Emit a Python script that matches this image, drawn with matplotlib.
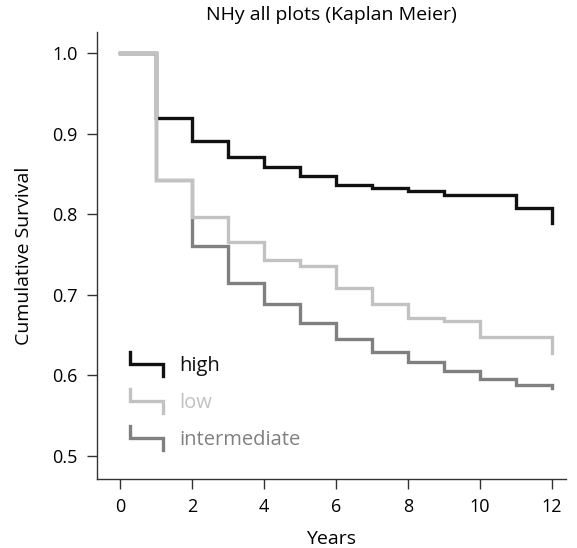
import matplotlib
matplotlib.use("Agg")
import matplotlib.pyplot as plt
from matplotlib.legend_handler import HandlerBase
from matplotlib.lines import Line2D

plt.rcParams["font.family"] = ["Open Sans", "DejaVu Sans"]

# Kaplan-Meier step values: value held from year i to i+1, last entry = value at year 12
years = list(range(13))
high = [1.0, 0.919, 0.891, 0.871, 0.859, 0.847, 0.836, 0.832, 0.829, 0.824, 0.824, 0.808, 0.789]
low = [1.0, 0.843, 0.797, 0.765, 0.743, 0.736, 0.708, 0.689, 0.671, 0.667, 0.648, 0.648, 0.628]
intermediate = [1.0, 0.843, 0.760, 0.715, 0.689, 0.665, 0.645, 0.629, 0.617, 0.605, 0.596, 0.588, 0.584]

c_high = "#111111"
c_low = "#c2c2c2"
c_int = "#808080"


class StepHandler(HandlerBase):
    # draws a little step glyph as the legend key
    def create_artists(self, legend, orig_handle, xdescent, ydescent,
                       width, height, fontsize, trans):
        x0 = -xdescent
        x1 = x0 + width
        ym = -ydescent + height / 2
        h = height * 0.85
        ln = Line2D([x0, x0, x1, x1], [ym + h, ym, ym, ym - h],
                    color=orig_handle.get_color(), lw=orig_handle.get_linewidth(),
                    solid_joinstyle="miter", transform=trans)
        return [ln]


fig = plt.figure(figsize=(5.77, 5.48), dpi=100)
ax = fig.add_axes([97 / 577, 1 - 479 / 548, (566 - 97) / 577, (479 - 32) / 548])

lw = 2.4
l_int, = ax.step(years, intermediate, where="post", color=c_int, lw=lw,
                 solid_joinstyle="miter", label="intermediate")
l_high, = ax.step(years, high, where="post", color=c_high, lw=lw,
                  solid_joinstyle="miter", label="high")
l_low, = ax.step(years, low, where="post", color=c_low, lw=lw,
                 solid_joinstyle="miter", label="low")

ax.set_xlim(-0.64, 12.39)
ax.set_ylim(0.4715, 1.026)
ax.set_xticks(range(0, 13, 2))
ax.set_yticks([0.5, 0.6, 0.7, 0.8, 0.9, 1.0])
ax.set_yticklabels(["0.5", "0.6", "0.7", "0.8", "0.9", "1.0"])

for s in ["top", "right"]:
    ax.spines[s].set_visible(False)
for s in ["left", "bottom"]:
    ax.spines[s].set_linewidth(1.0)
    ax.spines[s].set_color("#333333")
ax.tick_params(length=7, width=1.0, color="#333333", labelsize=13, pad=7)

ax.set_xlabel("Years", fontsize=14, labelpad=10)
ax.set_ylabel("Cumulative Survival", fontsize=14, labelpad=14)
ax.set_title("NHy all plots (Kaplan Meier)", fontsize=14, pad=9)

leg = ax.legend([l_high, l_low, l_int], ["high", "low", "intermediate"],
                handler_map={Line2D: StepHandler()},
                loc="lower left", bbox_to_anchor=(0.07, 0.065), frameon=False,
                fontsize=14.5, handlelength=1.65, handletextpad=0.8,
                labelspacing=0.85, borderpad=0, borderaxespad=0)
for txt, c in zip(leg.get_texts(), [c_high, c_low, c_int]):
    txt.set_color(c)

fig.savefig("out.png", dpi=100)
